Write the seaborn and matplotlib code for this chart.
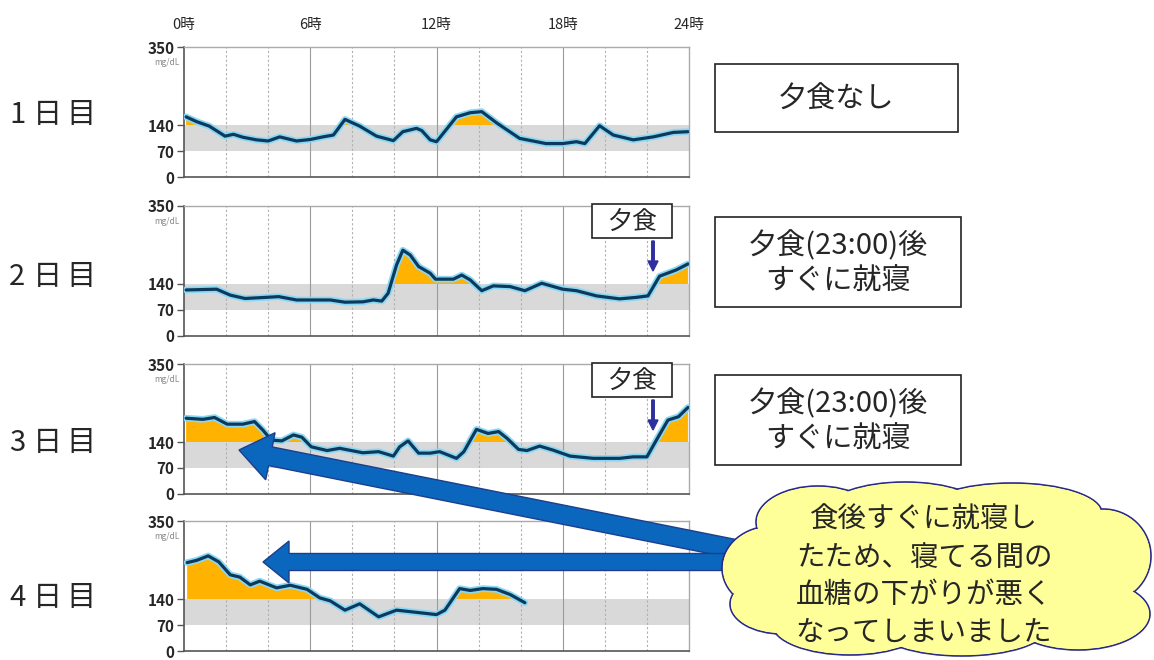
import numpy as np
import matplotlib
matplotlib.use("Agg")
import matplotlib.pyplot as plt
import matplotlib.patches as mpatches
import seaborn as sns

# データ (時刻[時], 血糖値[mg/dL])
day1_h = [0.1, 0.6, 1.2, 1.95, 2.35, 2.8, 3.45, 4.0, 4.55, 5.35, 6.0, 6.6, 7.1, 7.65, 8.35, 9.15, 9.95,
          10.4, 11.05, 11.3, 11.7, 12.0, 12.95, 13.6, 14.15, 14.85, 15.95, 17.2, 18.0, 18.65, 19.05,
          19.75, 20.4, 21.35, 22.3, 23.25, 23.95]
day1_v = [162, 149, 137, 110, 115, 107, 100, 97, 108, 97, 101, 108, 113, 155, 137, 110, 98,
          122, 131, 125, 100, 95, 162, 173, 176, 146, 104, 90, 90, 95, 90,
          138, 113, 100, 108, 120, 122]

day2_h = [0.1, 1.55, 2.2, 2.9, 3.9, 4.5, 5.35, 6.95, 7.65, 8.5, 9.0, 9.4, 9.7, 10.1, 10.4, 10.75,
          11.15, 11.7, 11.95, 12.8, 13.2, 13.6, 14.15, 14.7, 15.5, 16.2, 17.0, 18.0, 18.65, 19.6,
          20.7, 21.5, 22.05, 22.6, 23.4, 23.95]
day2_v = [124, 126, 110, 101, 104, 106, 97, 97, 91, 92, 97, 94, 115, 191, 231, 218,
          187, 169, 153, 153, 164, 151, 122, 135, 133, 122, 142, 126, 122, 108,
          100, 104, 108, 161, 178, 194]

day3_h = [0.1, 0.9, 1.45, 2.05, 2.8, 3.35, 3.75, 4.15, 4.65, 5.2, 5.6, 6.05, 6.8, 7.4, 8.5, 9.25,
          9.95, 10.25, 10.65, 11.15, 11.7, 12.15, 12.95, 13.3, 13.9, 14.45, 14.95, 15.35, 15.9,
          16.3, 16.9, 17.55, 18.35, 19.45, 20.7, 21.35, 22.0, 22.45, 23.0, 23.5, 23.95]
day3_v = [204, 201, 206, 188, 188, 195, 172, 145, 143, 159, 153, 127, 117, 123, 111, 114,
          102, 127, 143, 110, 110, 114, 96, 114, 174, 163, 168, 150, 120,
          117, 129, 118, 102, 96, 96, 100, 100, 145, 199, 208, 233]

day4_h = [0.15, 0.6, 1.15, 1.65, 2.2, 2.65, 3.15, 3.6, 4.4, 5.05, 5.85, 6.45, 6.95, 7.65, 8.35,
          9.25, 10.1, 10.9, 12.0, 12.4, 13.1, 13.6, 14.2, 14.85, 15.5, 16.2]
day4_v = [238, 244, 256, 240, 205, 199, 178, 188, 170, 177, 166, 143, 135, 110, 127,
          92, 110, 105, 98, 110, 168, 163, 168, 166, 152, 130]

days = [(day1_h, day1_v), (day2_h, day2_v), (day3_h, day3_v), (day4_h, day4_v)]
day_labels = [["1", "日", "目"], ["2", "日", "目"], ["3", "日", "目"], ["4", "日", "目"]]
hour_ticks = [0, 6, 12, 18, 24]
hour_labels = ["0時", "6時", "12時", "18時", "24時"]
y_ticks = [0, 70, 140, 350]
target_low, target_high = 70, 140

box_texts = ["夕食なし", "夕食(23:00)後\nすぐに就寝", "夕食(23:00)後\nすぐに就寝"]
cloud_lines = ["食後すぐに就寝し", "たため、寝てる間の", "血糖の下がりが悪く", "なってしまいました"]
meal_label = "夕食"

sns.set_theme(style="white")
plt.rcParams['font.family'] = ['Noto Sans CJK JP', 'DejaVu Sans']

W, H = 1154, 660
fig = plt.figure(figsize=(W / 100, H / 100), dpi=100)

# パネルの位置 (ピクセル)
ax_left, ax_right = 184, 689
ax_bottoms_px = [177, 336, 494, 651]
ax_h = 130

for i, (hh, vv) in enumerate(days):
    b = ax_bottoms_px[i]
    ax = fig.add_axes([ax_left / W, 1 - b / H, (ax_right - ax_left) / W, ax_h / H])
    hh = np.array(hh)
    vv = np.array(vv)
    ax.axhspan(target_low, target_high, color="#d9d9d9", lw=0, zorder=0)
    for g in range(2, 24, 2):
        if g % 6 == 0:
            ax.axvline(g, color="#9a9a9a", lw=0.8, zorder=1)
        else:
            ax.axvline(g, color="#b0b0b0", lw=0.8, ls=(0, (2, 2)), zorder=1)
    ax.fill_between(hh, target_high, vv, where=vv > target_high, interpolate=True,
                    color="#ffb300", lw=0, zorder=2)
    sns.lineplot(x=hh, y=vv, ax=ax, sort=False, color="#8ad8f4", lw=4.8, zorder=3)
    sns.lineplot(x=hh, y=vv, ax=ax, sort=False, color="#0d3a5c", lw=2.3, zorder=4)
    ax.set_xlim(0, 24)
    ax.set_ylim(0, 350)
    ax.set_yticks(y_ticks)
    ax.set_yticklabels([str(t) for t in y_ticks], fontsize=11, fontweight="bold")
    ax.set_xticks(hour_ticks)
    if i == 0:
        ax.set_xticklabels(hour_labels, fontsize=10.5)
        ax.tick_params(axis="x", top=False, bottom=False, labeltop=True, labelbottom=False, pad=5)
    else:
        ax.set_xticklabels([])
        ax.tick_params(axis="x", bottom=False)
    ax.tick_params(axis="y", left=True, length=5, width=1, color="#555", pad=2)
    ax.set_xlabel("")
    ax.set_ylabel("")
    ax.text(-0.008, 0.88, "mg/dL", transform=ax.transAxes, ha="right", va="center",
            fontsize=6, color="#888")
    for side in ["left", "bottom"]:
        ax.spines[side].set_color("#555")
        ax.spines[side].set_linewidth(1.2)
    for side in ["top", "right"]:
        ax.spines[side].set_color("#aaaaaa")
        ax.spines[side].set_linewidth(1.0)

# 注釈用のオーバーレイ
ov = fig.add_axes([0, 0, 1, 1], zorder=10)
ov.set_xlim(0, W)
ov.set_ylim(H, 0)
ov.axis("off")
ov.patch.set_alpha(0)

# 日目ラベル
label_y = [115, 277, 443, 598]
char_x = [17, 47, 81]
for lab, y in zip(day_labels, label_y):
    for ch, x in zip(lab, char_x):
        ov.text(x, y, ch, ha="center", va="center", fontsize=21)

# 右側の説明ボックス
boxes = [(715, 64, 958, 132), (715, 217, 961, 307), (715, 375, 961, 465)]
for (x0, y0, x1, y1), t in zip(boxes, box_texts):
    ov.add_patch(mpatches.Rectangle((x0, y0), x1 - x0, y1 - y0, fill=False, ec="#222", lw=1.2))
    ov.text((x0 + x1) / 2, (y0 + y1) / 2 + 2, t, ha="center", va="center",
            fontsize=21, linespacing=1.25)

# 夕食マーカー
for (bx0, by0) in [(592, 204), (592, 363)]:
    ov.add_patch(mpatches.Rectangle((bx0, by0), 80, 34, fc="white", ec="#222", lw=1.2))
    ov.text(bx0 + 40, by0 + 18, meal_label, ha="center", va="center", fontsize=18)
    ov.add_patch(mpatches.FancyArrow(653, by0 + 37, 0, 30, width=2.5, head_width=10,
                                     head_length=10, length_includes_head=True,
                                     color="#2f2f9f"))

# 青い矢印 (吹き出しの下)
ov.add_patch(mpatches.FancyArrow(740, 550, 239 - 740, 450 - 550, width=19, head_width=48,
                                 head_length=32, length_includes_head=True,
                                 fc="#0b67bd", ec="#1d3e8a", lw=1, zorder=0.5))
ov.add_patch(mpatches.FancyArrow(740, 562, 263 - 740, 0, width=17, head_width=42,
                                 head_length=26, length_includes_head=True,
                                 fc="#0b67bd", ec="#1d3e8a", lw=1, zorder=0.5))

# 雲形の吹き出し
bumps = [(935, 572, 175, 62), (772, 568, 50, 42), (818, 522, 62, 36), (905, 510, 78, 28),
         (1012, 513, 90, 30), (1103, 556, 48, 47), (1078, 614, 72, 36), (962, 628, 85, 28),
         (850, 624, 78, 31), (782, 604, 52, 30)]
for cx, cy, rx, ry in bumps:
    ov.add_patch(mpatches.Ellipse((cx, cy), 2 * rx, 2 * ry, fc="#ffff99", ec="#2a2a8a", lw=1.2, zorder=1))
for cx, cy, rx, ry in bumps:
    ov.add_patch(mpatches.Ellipse((cx, cy), 2 * rx - 2, 2 * ry - 2, fc="#ffff99", ec="none", zorder=2))
for k, line in enumerate(cloud_lines):
    ov.text(924, 520 + k * 37.5, line, ha="center", va="center", fontsize=20.5, zorder=3)

fig.savefig("out.png", dpi=100)
plt.close(fig)
